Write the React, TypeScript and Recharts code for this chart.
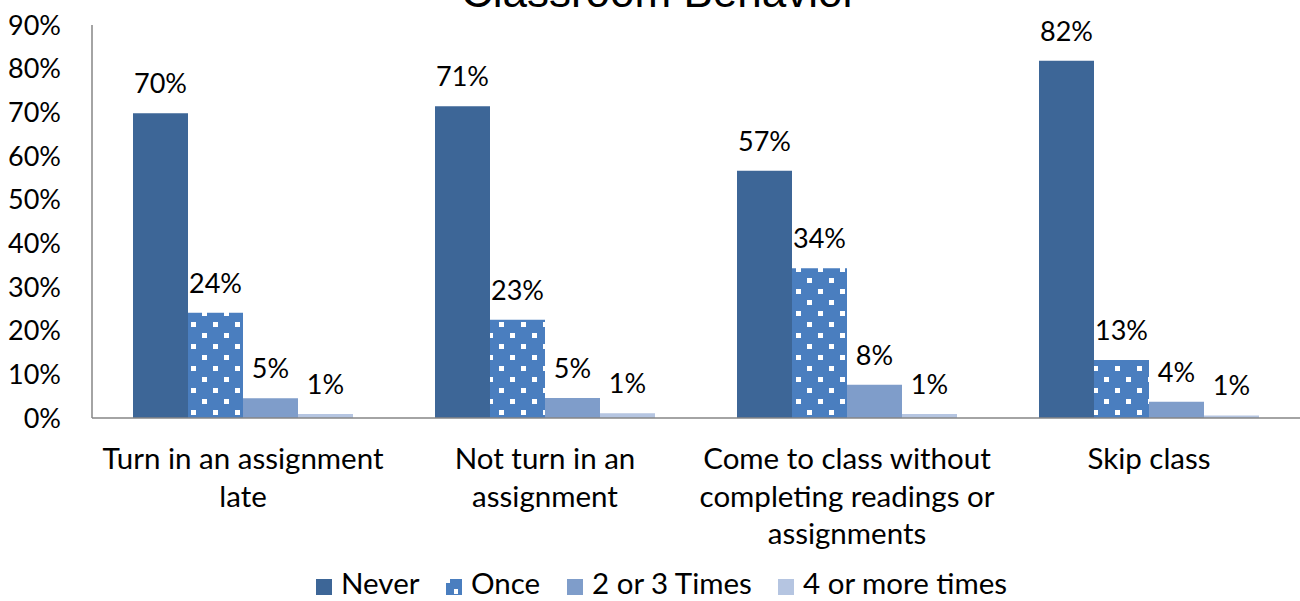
import React from "react";
import { BarChart, Bar, XAxis, YAxis, LabelList, Legend } from "recharts";

const categories = [
  "Turn in an assignment late",
  "Not turn in an assignment",
  "Come to class without completing readings or assignments",
  "Skip class",
];
const categoryLines = [
  ["Turn in an assignment", "late"],
  ["Not turn in an", "assignment"],
  ["Come to class without", "completing readings or", "assignments"],
  ["Skip class"],
];
const never = [0.698, 0.714, 0.566, 0.818];
const once = [0.241, 0.225, 0.343, 0.133];
const twoOrThree = [0.045, 0.046, 0.076, 0.037];
const fourOrMore = [0.009, 0.011, 0.009, 0.006];
const yTicks = [0, 0.1, 0.2, 0.3, 0.4, 0.5, 0.6, 0.7, 0.8, 0.9];

const seriesNames = ["Never", "Once", "2 or 3 Times", "4 or more times"];
const COLORS = ["#3D6697", "#4A7EBF", "#7F9DCA", "#B5C5E1"];
const FONT = "Lato, 'Noto Sans', sans-serif";

const data = categories.map((c, i) => ({
  name: c,
  never: never[i],
  once: once[i],
  two: twoOrThree[i],
  four: fourOrMore[i],
}));

const pct = (v: number) => `${Math.round(v * 100)}%`;

const XTick = (props: any) => {
  const { x, y, payload } = props;
  const lines = categoryLines[payload.index] || [payload.value];
  return (
    <text
      x={x}
      y={y + 51}
      textAnchor="middle"
      fontFamily={FONT}
      fontSize={29.5}
      fill="#000"
    >
      {lines.map((l: string, i: number) => (
        <tspan key={i} x={x} dy={i === 0 ? 0 : 37.5}>
          {l}
        </tspan>
      ))}
    </text>
  );
};

const legendOffsets = [0, 130, 251, 462];

const LegendContent = () => {
  const fills = [COLORS[0], "url(#dotPatternLegend)", COLORS[2], COLORS[3]];
  return (
    <svg width={720} height={38} style={{ display: "block", overflow: "visible" }}>
      {seriesNames.map((n, i) => (
        <g key={n} transform={`translate(${legendOffsets[i]},0)`}>
          <rect x={0} y={16} width={16} height={16} fill={fills[i]} />
          <text x={25} y={31} fontFamily={FONT} fontSize={29.5} fill="#000">
            {n}
          </text>
        </g>
      ))}
    </svg>
  );
};

export default function App() {
  return (
    <div style={{ position: "absolute", left: 0, top: 0, width: 1300, height: 601, background: "#fff" }}>
      <BarChart
        width={1300}
        height={601}
        data={data}
        margin={{ top: 25, right: 0, left: 0, bottom: 0 }}
        barCategoryGap={41}
        barGap={0}
      >
        <defs>
          <pattern id="dotPattern" patternUnits="userSpaceOnUse" width={22} height={22}>
            <rect x={0} y={0} width={22} height={22} fill={COLORS[1]} />
            <rect x={4} y={3} width={5} height={5} fill="#fff" />
            <rect x={15} y={14} width={5} height={5} fill="#fff" />
          </pattern>
          <pattern id="dotPatternLegend" patternUnits="userSpaceOnUse" width={16} height={16}>
            <rect x={0} y={0} width={16} height={16} fill={COLORS[1]} />
            <rect x={0} y={0} width={4} height={4} fill="#fff" />
            <rect x={8} y={10} width={4} height={5} fill="#fff" />
          </pattern>
        </defs>
        <text
          x={659}
          y={7}
          textAnchor="middle"
          fontFamily="'Liberation Sans', Arial, sans-serif"
          fontSize={44}
          fill="#000"
        >
          Classroom Behavior
        </text>
        <XAxis
          dataKey="name"
          height={183}
          axisLine={{ stroke: "#868686", strokeWidth: 1.5 }}
          tickLine={false}
          tickSize={0}
          tickMargin={0}
          tick={<XTick />}
          interval={0}
        />
        <YAxis
          width={92}
          domain={[0, 0.9]}
          ticks={yTicks}
          tickFormatter={pct}
          axisLine={{ stroke: "#868686", strokeWidth: 1.5 }}
          tickLine={false}
          tickSize={0}
          tickMargin={31}
          tick={{ fontFamily: FONT, fontSize: 27, fill: "#000" }}
          interval={0}
        />
        <Legend
          layout="horizontal"
          verticalAlign="middle"
          align="center"
          content={<LegendContent />}
          wrapperStyle={{ top: 563, left: 316, width: 720, height: 38 }}
        />
        <Bar dataKey="never" name={seriesNames[0]} fill={COLORS[0]} isAnimationActive={false}>
          <LabelList dataKey="never" position="top" offset={20} formatter={pct as any} fill="#000" fontFamily={FONT} fontSize={27} />
        </Bar>
        <Bar dataKey="once" name={seriesNames[1]} fill="url(#dotPattern)" isAnimationActive={false}>
          <LabelList dataKey="once" position="top" offset={20} formatter={pct as any} fill="#000" fontFamily={FONT} fontSize={27} />
        </Bar>
        <Bar dataKey="two" name={seriesNames[2]} fill={COLORS[2]} isAnimationActive={false}>
          <LabelList dataKey="two" position="top" offset={20} formatter={pct as any} fill="#000" fontFamily={FONT} fontSize={27} />
        </Bar>
        <Bar dataKey="four" name={seriesNames[3]} fill={COLORS[3]} isAnimationActive={false}>
          <LabelList dataKey="four" position="top" offset={20} formatter={pct as any} fill="#000" fontFamily={FONT} fontSize={27} />
        </Bar>
      </BarChart>
    </div>
  );
}
